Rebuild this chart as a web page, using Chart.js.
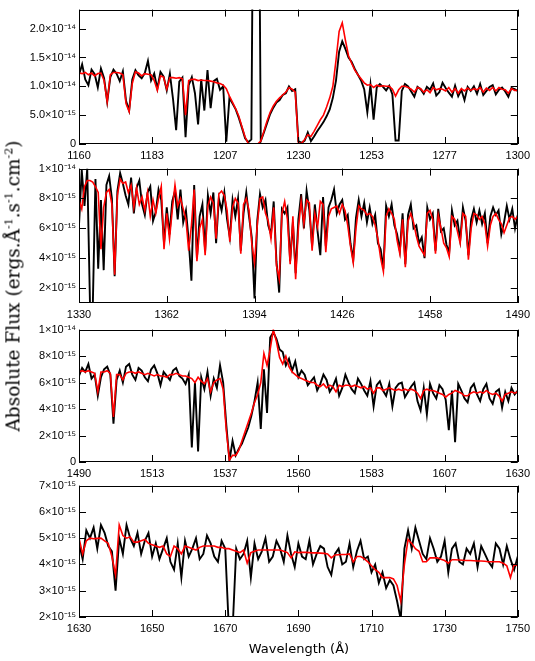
<!DOCTYPE html>
<html><head><meta charset="utf-8">
<script src="https://cdn.jsdelivr.net/npm/chart.js@4.4.1/dist/chart.umd.min.js"></script>
<style>
html,body{margin:0;padding:0;background:#fff;width:535px;height:661px;overflow:hidden;position:relative}
canvas{position:absolute;left:0}
#ylab{position:absolute;left:13px;top:286px;transform:translate(-50%,-50%) rotate(-90deg);font-family:"DejaVu Serif",serif;font-size:18.5px;white-space:nowrap;color:#000}
#ylab sup{font-size:11px}
#xlab{position:absolute;left:299px;top:648px;transform:translate(-50%,-50%);font-family:"DejaVu Sans",sans-serif;font-size:13px;white-space:nowrap;color:#000}
</style></head>
<body>
<canvas id="c1" width="535" height="162" style="top:0px"></canvas>
<canvas id="c2" width="535" height="162" style="top:159px"></canvas>
<canvas id="c3" width="535" height="160" style="top:320px"></canvas>
<canvas id="c4" width="535" height="159" style="top:476px"></canvas>
<div id="ylab">Absolute Flux (ergs.Å<sup>-1</sup>.s<sup>-1</sup>.cm<sup>-2</sup>)</div>
<div id="xlab">Wavelength (Å)</div>
<script>
// flux values are in units of 1e-15 erg/s/cm2/Å, sampled every 1 Å
const UNIT = 1e-15;

// ---- Panel 1: 1160-1300 Å ----
const wlStart1 = 1160, wlEnd1 = 1300;
const observed1 = [12.0,13.8,11.2,10.2,12.9,12.1,9.8,13.1,11.4,7.3,
11.6,12.9,12.2,10.9,12.6,7.5,5.8,11.2,12.8,11.9,
11.4,12.3,14.4,11.0,12.2,9.6,12.5,11.7,9.3,12.2,
7.8,2.4,10.8,11.5,1.2,10.2,11.6,8.8,3.4,11.2,
5.8,12.8,6.2,10.9,11.3,9.4,10.0,0.4,8.0,7.0,
6.0,4.5,2.8,1.0,0.3,0.8,80,80,0.5,2.0,
3.6,5.2,6.3,7.2,7.6,8.5,8.8,10.0,9.2,9.5,
0.5,0.2,0.6,2.0,0.5,1.3,2.2,3.0,3.8,4.8,
6.0,8.0,11.0,16.0,17.8,16.5,15.0,14.2,13.0,12.0,
11.0,9.5,5.5,10.3,4.2,9.8,10.4,9.9,9.3,10.1,
8.6,0.6,0.6,9.2,10.4,10.0,9.1,8.2,9.9,9.5,
8.7,9.9,9.4,10.5,8.4,9.0,10.6,9.7,8.9,8.2,
10.1,8.3,9.4,7.6,9.9,9.2,10.0,8.7,10.4,8.5,
9.2,9.9,10.2,8.6,9.4,9.8,9.1,8.2,9.7,9.5,
9.2];
const model1 = [12.3,12.2,12.4,12.0,12.3,11.8,12.2,12.3,11.0,7.3,
12.0,12.4,12.4,12.3,12.0,7.0,5.6,10.5,12.5,12.3,
11.8,12.2,12.1,12.0,11.0,9.3,11.8,11.6,9.5,11.5,
11.5,11.4,11.5,11.3,5.0,11.0,11.2,11.2,11.0,11.1,
11.0,11.0,10.9,10.8,10.6,10.5,10.2,9.6,8.3,7.2,
6.1,4.8,3.0,1.2,0.1,0,0,0,0.5,2.2,
4.0,5.5,6.6,7.4,8.0,8.5,9.0,9.8,9.5,9.0,
0.2,0.1,0.8,1.6,1.3,2.2,3.2,4.2,5.0,6.4,
8.0,10.0,14.5,19.5,21.0,18.0,15.3,14.0,12.8,12.0,
11.3,10.6,10.2,10.3,9.8,10.2,10.0,10.1,10.0,10.0,
9.5,8.3,9.4,10.0,10.0,9.8,9.5,9.0,9.8,9.6,
9.0,9.4,8.9,9.8,9.4,9.6,9.5,9.2,9.8,9.0,
9.6,8.8,9.6,9.2,9.7,9.3,9.6,9.4,9.8,9.0,
9.7,9.3,9.8,9.2,9.8,9.5,9.4,8.8,9.6,9.3,
9.3];
const yMin1 = 0, yMax1 = 23.3;
const yTicks1 = [0,5,10,15,20];
const yLabels1 = ["0","5.0×10⁻¹⁵","1.0×10⁻¹⁴","1.5×10⁻¹⁴","2.0×10⁻¹⁴"];
const xLabels1 = ["1160","1183","1207","1230","1253","1277","1300"];

// ---- Panel 2: 1330-1490 Å ----
const wlStart2 = 1330, wlEnd2 = 1490;
const observed2 = [6.2,9.9,7.5,10.0,1.0,0.5,9.3,3.3,7.9,3.2,
8.9,9.5,8.0,2.8,8.5,9.7,9.0,8.2,7.6,9.4,
7.0,8.7,9.2,7.6,6.9,8.4,8.8,6.5,7.1,8.6,
7.9,5.0,7.4,5.6,7.8,8.5,6.6,8.6,6.4,7.2,
5.2,2.5,8.9,4.0,6.8,7.6,4.5,8.2,7.0,8.4,
5.0,8.0,7.2,8.4,6.6,5.4,7.9,6.8,8.0,4.5,
7.0,8.4,6.8,5.4,1.3,6.5,8.3,7.4,7.9,6.2,
5.6,7.8,3.8,1.7,7.3,7.0,7.4,3.8,6.4,3.0,
6.6,8.3,6.0,8.5,7.2,4.8,7.6,5.8,4.2,8.1,
4.8,7.4,7.9,8.6,7.0,7.6,7.9,6.6,6.9,5.0,
3.9,6.7,7.9,6.8,7.7,6.4,7.4,6.3,6.9,5.0,
4.6,3.3,7.5,6.8,7.6,6.2,5.6,4.5,7.0,3.6,
6.9,7.6,6.0,6.2,5.0,5.4,4.0,7.4,6.6,7.0,
4.5,7.3,5.8,6.0,4.9,4.4,7.2,6.2,6.5,5.2,
7.4,6.5,4.2,6.6,7.3,6.4,7.2,6.3,7.0,5.0,
6.8,7.4,6.9,7.2,5.6,6.4,7.5,6.6,7.3,6.0,
6.9];
const model2 = [7.9,7.3,8.8,9.2,9.2,9.1,8.8,8.4,4.6,7.4,
8.4,8.6,7.6,2.9,8.2,9.3,9.0,9.1,8.4,8.9,
7.4,8.7,7.6,8.1,7.2,8.4,6.8,7.9,7.0,8.0,
8.8,4.6,7.0,5.3,7.2,8.9,7.5,8.0,7.3,6.6,
4.5,6.2,8.6,3.8,6.0,6.6,4.2,7.5,8.1,7.7,
5.3,8.3,8.5,8.2,7.2,5.1,7.4,8.0,7.7,4.3,
7.6,8.0,7.2,5.0,3.7,6.2,8.0,8.1,7.0,6.5,
5.3,7.4,3.5,2.6,7.0,7.8,6.6,3.6,6.8,2.6,
6.0,7.8,6.3,7.9,7.7,4.5,7.0,6.1,7.8,7.6,
4.4,6.8,7.3,7.4,7.5,7.0,7.6,7.2,6.2,4.8,
3.7,6.0,7.5,7.3,7.2,6.9,7.0,6.8,6.2,5.3,
4.0,3.1,6.8,7.3,7.0,6.6,5.2,4.3,6.6,3.4,
6.5,7.0,6.4,5.5,4.8,4.5,4.2,7.0,7.2,6.6,
4.3,6.9,6.0,5.0,4.7,4.1,6.8,6.6,5.8,5.0,
7.0,6.8,3.9,6.0,7.0,6.9,6.6,6.8,6.3,4.8,
6.2,6.8,7.0,6.6,6.3,5.7,6.2,6.7,6.8,6.6,
6.8];
const yMin2 = 1, yMax2 = 10;
const yTicks2 = [2,4,6,8,10];
const yLabels2 = ["2×10⁻¹⁵","4×10⁻¹⁵","6×10⁻¹⁵","8×10⁻¹⁵","1×10⁻¹⁴"];
const xLabels2 = ["1330","1362","1394","1426","1458","1490"];

// ---- Panel 3: 1490-1630 Å ----
const wlStart3 = 1490, wlEnd3 = 1630;
const observed3 = [6.5,7.1,6.8,7.4,6.3,6.6,5.0,6.4,7.0,7.2,
6.6,2.9,6.2,6.9,6.0,7.2,7.4,6.6,6.2,7.1,
6.9,6.4,6.1,7.0,7.3,6.7,5.8,6.8,6.5,6.2,
6.9,7.1,6.5,6.3,5.9,6.6,1.1,6.0,0.8,6.4,
5.5,6.8,5.0,6.3,5.6,7.3,6.0,2.8,0.1,1.6,
0.5,1.0,1.4,2.0,2.6,3.5,4.6,6.0,2.5,7.0,
3.7,9.4,9.8,9.3,8.5,8.3,7.3,7.8,6.9,7.6,
6.4,6.9,6.6,5.8,6.1,6.4,5.4,5.9,6.6,6.2,
5.3,5.7,6.3,5.0,5.6,6.6,6.0,5.5,5.2,6.3,
5.9,5.4,5.0,6.1,4.2,5.8,6.1,5.4,5.0,5.9,
4.2,5.6,5.9,6.0,4.9,5.3,5.7,6.0,4.6,3.9,
5.6,3.6,5.9,5.2,4.8,5.8,5.5,4.7,2.4,5.4,
1.5,5.9,5.4,4.8,4.5,5.6,5.9,5.1,4.6,5.5,
5.9,4.8,4.4,5.3,5.5,4.1,5.3,4.6,5.6,5.1,
5.4];
const model3 = [6.8,6.9,6.8,6.9,6.8,6.7,5.3,6.8,6.8,6.9,
6.7,3.4,6.6,6.6,6.2,6.7,6.8,6.8,6.7,6.8,
6.7,6.6,6.7,6.6,6.5,6.6,6.5,6.5,6.4,6.6,
6.6,6.7,6.6,6.5,6.5,6.4,6.3,6.0,6.4,6.1,
5.9,6.3,5.3,6.0,6.2,6.3,5.5,2.4,0.15,0.5,
0.5,0.9,1.6,2.3,3.0,3.7,4.5,5.1,6.0,8.2,
7.3,8.5,10.0,9.1,7.9,7.4,8.0,7.2,6.8,6.6,
6.4,6.3,6.2,6.1,6.0,6.0,5.8,5.7,5.9,5.6,
5.8,5.7,5.3,5.8,5.7,5.8,5.8,5.7,5.8,5.7,
5.6,5.7,5.5,5.6,5.2,5.6,5.6,5.4,5.5,5.6,
5.5,5.4,5.5,5.4,5.5,5.4,5.5,5.4,5.2,4.8,
5.4,5.5,5.4,5.4,5.3,5.2,5.1,4.9,5.1,5.2,
5.4,5.3,5.2,5.0,5.0,5.2,5.3,5.2,5.3,5.2,
5.4,5.2,5.1,5.2,5.0,4.6,5.1,5.2,5.3,5.2,
5.3];
const yMin3 = 0, yMax3 = 10;
const yTicks3 = [0,2,4,6,8,10];
const yLabels3 = ["0","2×10⁻¹⁵","4×10⁻¹⁵","6×10⁻¹⁵","8×10⁻¹⁵","1×10⁻¹⁴"];
const xLabels3 = ["1490","1513","1537","1560","1583","1607","1630"];

// ---- Panel 4: 1630-1750 Å ----
const wlStart4 = 1630, wlEnd4 = 1750;
const observed4 = [4.8,4.2,5.3,5.0,5.4,4.6,5.5,5.2,4.7,4.5,
3.0,5.0,4.4,5.5,5.0,4.7,5.2,4.4,4.9,5.2,
4.3,4.8,4.2,4.6,5.0,4.1,3.8,4.8,3.5,4.9,
4.3,4.6,5.0,4.2,4.4,5.1,4.8,4.3,4.1,4.9,
4.6,1.5,1.5,4.6,4.2,4.4,4.9,3.5,4.8,4.2,
4.5,5.0,4.1,4.3,4.9,4.6,4.1,5.1,4.4,3.9,
4.8,4.3,4.2,4.9,4.0,4.4,4.7,4.6,3.9,3.6,
4.4,4.6,4.0,4.1,4.8,3.9,4.5,4.9,4.2,4.3,
3.7,4.0,3.3,3.7,3.1,3.4,3.2,2.6,1.9,4.6,
5.3,4.6,5.4,4.9,4.4,4.2,5.0,4.6,4.1,4.3,
4.9,3.7,4.6,4.8,4.1,4.0,4.6,4.4,4.8,3.9,
4.7,4.4,4.1,3.9,4.8,4.6,4.0,4.7,4.2,3.8,
4.3];
const model4 = [5.0,4.4,4.9,5.0,4.98,4.99,5.0,4.9,4.8,4.3,
3.6,5.5,5.1,5.0,5.05,4.85,4.85,4.9,4.95,4.8,
4.75,4.7,4.65,4.7,4.4,4.3,4.7,4.6,4.4,4.7,
4.65,4.6,4.55,4.65,4.7,4.7,4.7,4.7,4.65,4.65,
4.6,4.6,4.55,4.5,4.45,4.55,4.05,4.45,4.5,4.55,
4.55,4.55,4.55,4.55,4.55,4.55,4.5,4.45,4.25,4.48,
4.45,4.46,4.46,4.45,4.44,4.44,4.43,4.42,4.4,4.25,
4.36,4.37,4.38,4.38,4.4,4.1,4.3,4.3,4.22,4.1,
3.95,3.8,3.7,3.5,3.5,3.5,3.45,3.2,2.6,4.0,
4.95,4.8,4.6,4.5,4.1,4.1,4.25,4.25,4.25,4.2,
4.15,4.05,4.18,4.18,4.17,4.16,4.15,4.15,4.14,4.13,
4.13,4.12,4.1,4.1,4.1,4.1,4.05,3.95,3.5,4.0,
3.95];
const yMin4 = 2, yMax4 = 7;
const yTicks4 = [2,3,4,5,6,7];
const yLabels4 = ["2×10⁻¹⁵","3×10⁻¹⁵","4×10⁻¹⁵","5×10⁻¹⁵","6×10⁻¹⁵","7×10⁻¹⁵"];
const xLabels4 = ["1630","1650","1670","1690","1710","1730","1750"];

// ---- drawing ----
const TICK_LEN = 7;
const frameTicks = {
  id: 'frameTicks',
  afterDraw(chart) {
    const ctx = chart.ctx, a = chart.chartArea;
    const xs = chart.scales.x, ys = chart.scales.y;
    ctx.save();
    ctx.strokeStyle = '#000';
    ctx.lineWidth = 1;
    ctx.beginPath();
    xs.ticks.forEach(t => {
      const p = Math.round(xs.getPixelForValue(t.value)) + 0.5;
      ctx.moveTo(p, a.bottom); ctx.lineTo(p, a.bottom - TICK_LEN);
      ctx.moveTo(p, a.top); ctx.lineTo(p, a.top + TICK_LEN);
    });
    ys.ticks.forEach(t => {
      const p = Math.round(ys.getPixelForValue(t.value)) + 0.5;
      ctx.moveTo(a.left, p); ctx.lineTo(a.left + TICK_LEN, p);
      ctx.moveTo(a.right, p); ctx.lineTo(a.right - TICK_LEN, p);
    });
    ctx.stroke();
    ctx.strokeRect(Math.round(a.left) + 0.5, Math.round(a.top) + 0.5,
      Math.round(a.right - a.left) - 1, Math.round(a.bottom - a.top) - 1);
    ctx.restore();
  }
};

function toPoints(start, arr) {
  return arr.map((v, i) => ({ x: start + i, y: v * UNIT }));
}

function makePanel(id, wlStart, wlEnd, obs, mod, yMin, yMax, yTicks, yLabels, xLabels) {
  const font = { family: '"Liberation Sans", Arial, sans-serif', size: 11 };
  new Chart(document.getElementById(id), {
    type: 'line',
    data: {
      datasets: [
        { data: toPoints(wlStart, mod), borderColor: '#ff0000', borderWidth: 1.6, pointRadius: 0, tension: 0 },
        { data: toPoints(wlStart, obs), borderColor: '#000000', borderWidth: 1.9, pointRadius: 0, tension: 0 }
      ]
    },
    options: {
      responsive: false,
      animation: false,
      devicePixelRatio: 1,
      layout: { padding: { left: 0, right: 16, top: 9, bottom: 0 } },
      plugins: { legend: { display: false }, tooltip: { enabled: false } },
      scales: {
        x: {
          type: 'linear', min: wlStart, max: wlEnd,
          grid: { display: false, drawTicks: false }, border: { display: false },
          afterBuildTicks: s => {
            s.ticks = xLabels.map((l, i) => ({ value: wlStart + i * (wlEnd - wlStart) / (xLabels.length - 1) }));
          },
          afterFit: s => { s.height = 18; },
          ticks: { autoSkip: false, maxRotation: 0, padding: 5, color: '#000', font,
            callback: (v, i) => xLabels[i] }
        },
        y: {
          type: 'linear', min: yMin * UNIT, max: yMax * UNIT,
          grid: { display: false, drawTicks: false }, border: { display: false },
          afterBuildTicks: s => { s.ticks = yTicks.map(v => ({ value: v * UNIT })); },
          afterFit: s => { s.width = 79; },
          ticks: { autoSkip: false, padding: 3, color: '#000', font,
            callback: (v, i) => yLabels[i] }
        }
      }
    },
    plugins: [frameTicks]
  });
}

makePanel('c1', wlStart1, wlEnd1, observed1, model1, yMin1, yMax1, yTicks1, yLabels1, xLabels1);
makePanel('c2', wlStart2, wlEnd2, observed2, model2, yMin2, yMax2, yTicks2, yLabels2, xLabels2);
makePanel('c3', wlStart3, wlEnd3, observed3, model3, yMin3, yMax3, yTicks3, yLabels3, xLabels3);
makePanel('c4', wlStart4, wlEnd4, observed4, model4, yMin4, yMax4, yTicks4, yLabels4, xLabels4);
</script>
</body></html>
